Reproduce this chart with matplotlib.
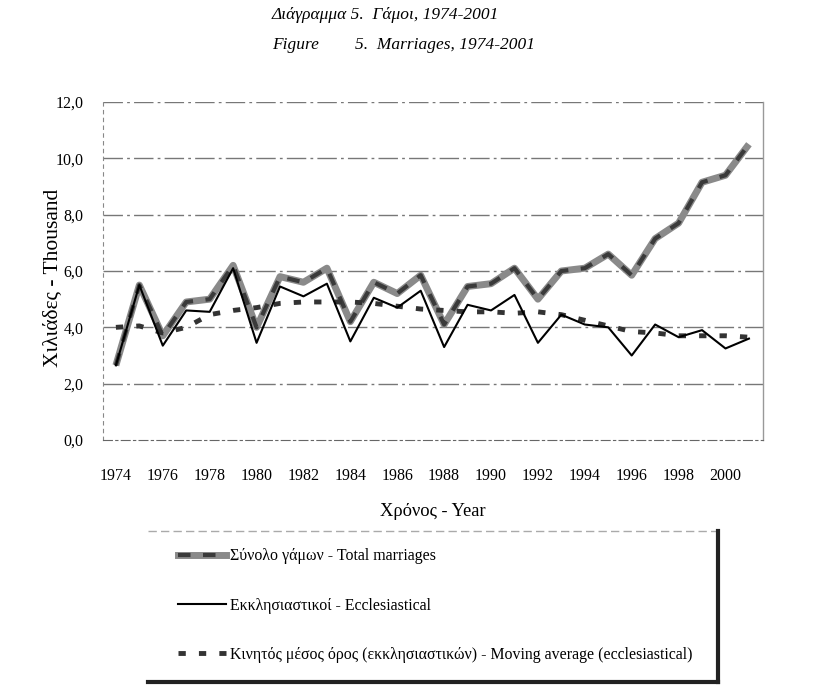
import matplotlib
matplotlib.use("Agg")
import matplotlib.pyplot as plt
from matplotlib.lines import Line2D
import numpy as np

plt.rcParams['font.family'] = ['Liberation Serif', 'DejaVu Serif']

years = list(range(1974, 2002))
total = [2.65, 5.5, 3.7, 4.9, 5.0, 6.2, 4.0, 5.8, 5.6, 6.1, 4.2, 5.6, 5.2, 5.85,
         4.1, 5.45, 5.55, 6.1, 5.0, 6.0, 6.1, 6.6, 5.85, 7.15, 7.7, 9.15, 9.4, 10.5]
eccl = [2.65, 5.5, 3.35, 4.6, 4.55, 6.1, 3.45, 5.45, 5.1, 5.55, 3.5, 5.05, 4.7, 5.3,
        3.3, 4.8, 4.6, 5.15, 3.45, 4.45, 4.1, 4.0, 3.0, 4.1, 3.65, 3.9, 3.25, 3.6]
ma = [4.0, 4.05, 3.8, 4.0, 4.45, 4.6, 4.7, 4.85, 4.9, 4.9, 4.9, 4.85, 4.75, 4.65,
      4.6, 4.55, 4.55, 4.5, 4.55, 4.45, 4.25, 4.05, 3.85, 3.8, 3.7, 3.7, 3.7, 3.65]
yticks = [0, 2, 4, 6, 8, 10, 12]
ytick_labels = ["0,0", "2,0", "4,0", "6,0", "8,0", "10,0", "12,0"]
xticks = list(range(1974, 2001, 2))

title1 = "Διάγραμμα 5.  Γάμοι, 1974-2001"
title2a = "Figure"
title2b = "5.  Marriages, 1974-2001"
lab_total = "Σύνολο γάμων - Total marriages"
lab_eccl = "Εκκλησιαστικοί - Ecclesiastical"
lab_ma = "Κινητός μέσος όρος (εκκλησιαστικών) - Moving average (ecclesiastical)"

W, H = 819, 697
fig = plt.figure(figsize=(8.19, 6.97), dpi=100)
ax = fig.add_axes([103/W, 1-440/H, 660/W, 338/H])

# gridlines
for yv in yticks[1:]:
    ax.axhline(yv, color='#777777', lw=1.0, ls=(0, (14, 3, 2, 3)), zorder=1)

MA_LS = (0, (1.5, 2.7))
# series
ax.plot(years, total, color='#8a8a8a', lw=5.0, solid_capstyle='butt', zorder=3)
ax.plot(years, total, color='#3a3a3a', lw=3.0, ls=(0, (3, 3)), zorder=4)
ax.plot(years, eccl, color='black', lw=1.5, zorder=5)
ax.plot(years, ma, color='#333333', lw=3.5, ls=MA_LS, zorder=4)

ax.set_xlim(1973.45, 2001.6)
ax.set_ylim(0, 12)
ax.set_xticks(xticks)
ax.set_xticklabels([str(x) for x in xticks], fontsize=11.5)
ax.set_yticks(yticks)
ax.set_yticklabels(ytick_labels, fontsize=11.5)
ax.tick_params(axis='x', length=0, pad=20)
ax.tick_params(axis='y', length=0, pad=14)

ax.spines['top'].set_visible(False)
ax.spines['left'].set_linestyle((0, (3, 4)))
ax.spines['left'].set_color('#888888')
ax.spines['bottom'].set_linestyle((0, (8, 3, 2, 3)))
ax.spines['bottom'].set_color('#666666')
ax.spines['right'].set_color('#999999')
ax.spines['right'].set_linewidth(1.0)

ax.set_xlabel("Χρόνος - Year", fontsize=13.3)
ax.xaxis.set_label_coords(0.5, -(512-440)/338, transform=ax.transAxes)
ax.xaxis.label.set_va('center')
ax.set_ylabel("Χιλιάδες - Thousand", fontsize=15.5)
ax.yaxis.set_label_coords((53-103)/660, 0.5 - (278-271)/338, transform=ax.transAxes)
ax.yaxis.label.set_va('center')

fig.text(272/W, 1-15/H, title1, fontsize=12.5, style='italic', va='center', ha='left')
fig.text(272/W, 1-45/H, title2a, fontsize=12.5, style='italic', va='center', ha='left')
fig.text(355/W, 1-45/H, title2b, fontsize=12.5, style='italic', va='center', ha='left')

# legend
h_total = (Line2D([], [], color='#8a8a8a', lw=5), Line2D([], [], color='#3a3a3a', lw=3, ls=(0, (3, 3))))
h_eccl = Line2D([], [], color='black', lw=1.5)
h_ma = Line2D([], [], color='#333333', lw=3.5, ls=MA_LS)
leg = fig.legend([h_total, h_eccl, h_ma], [lab_total, lab_eccl, lab_ma],
                 loc='upper left', bbox_to_anchor=(172/W, 1-542/H),
                 frameon=False, fontsize=11.4, handlelength=3.0, handletextpad=0.25,
                 labelspacing=2.1, borderaxespad=0)

# legend box borders
fig.add_artist(Line2D([148/W, 718/W], [1-531/H, 1-531/H], color='#aaaaaa', lw=1, ls=(0, (6, 3))))
fig.add_artist(Line2D([718/W, 718/W], [1-531/H, 1-682/H], color='#222222', lw=3))
fig.add_artist(Line2D([148/W, 718/W], [1-682/H, 1-682/H], color='#222222', lw=3))

fig.savefig("out.png", dpi=100)
